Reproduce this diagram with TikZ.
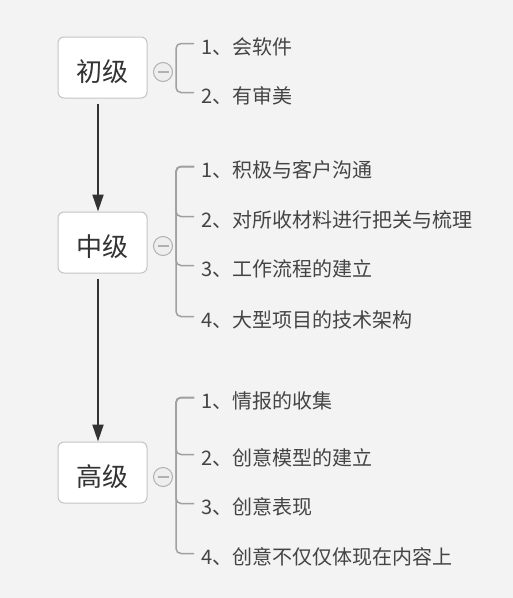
\documentclass[tikz,border=0pt]{standalone}
\usepackage{fontspec}
\setmainfont{Noto Sans CJK SC}
\usetikzlibrary{positioning, arrows.meta}
\usepackage{xcolor}
\definecolor{canvas}{RGB}{243,243,243}
\definecolor{boxbdr}{RGB}{196,196,196}
\definecolor{ink}{RGB}{51,51,51}
\definecolor{subink}{RGB}{68,68,68}
\definecolor{brk}{RGB}{160,160,160}
\definecolor{knob}{RGB}{176,176,176}
\definecolor{knobfill}{RGB}{238,238,238}
\tikzset{
  BX/.style={draw=boxbdr,fill=white,line width=1pt,rectangle,minimum width=89pt,minimum height=61pt,rounded corners=6pt,font=\fontsize{26pt}{29pt}\selectfont\color{ink},inner sep=0pt,text height=30pt,text depth=3pt},
  TX/.style={anchor=west,inner xsep=7pt,inner ysep=0pt,font=\fontsize{20pt}{23pt}\selectfont\color{subink}},
  CL/.style={circle,draw=knob,fill=knobfill,line width=1pt,minimum size=19pt,inner sep=0pt,
    path picture={\draw[knob,line width=1.2pt]([xshift=-5.5pt]path picture bounding box.center)--([xshift=5.5pt]path picture bounding box.center);}},
  BR/.style={draw=brk,line width=1.5pt,rounded corners=5pt},
  FL/.style={-{Triangle[length=17pt,width=11pt]},line width=2pt,ink},
}
\begin{document}
\begin{tikzpicture}[x=1pt,y=-1pt]
\fill[canvas](0,0) rectangle (513,598);

% Level 1
\node[BX](low) at (102.5,67.5){初级};
\node[CL](lk)  at (163,72){};
\node[TX](l1)  at (194,47){1、会软件};
\node[TX](l2)  at (194,96){2、有审美};
\draw[BR]([yshift=3.5pt]l1.west)--++(-18,0)|-([yshift=3.5pt]l2.west);

% Level 2
\node[BX](mid) at (102.5,242.5){中级};
\node[CL](mk)  at (163,246){};
\node[TX](m1)  at (194,170){1、积极与客户沟通};
\node[TX](m2)  at (194,220){2、对所收材料进行把关与梳理};
\node[TX](m3)  at (194,269){3、工作流程的建立};
\node[TX](m4)  at (194,320){4、大型项目的技术架构};
\foreach \k in {2,3,4}
  \draw[BR]([yshift=3.5pt]m1.west)--++(-18,0)|-([yshift=3.5pt]m\k.west);

% Level 3
\node[BX](high) at (102.5,472.5){高级};
\node[CL](hk)   at (163,477){};
\node[TX](h1)   at (194,401){1、情报的收集};
\node[TX](h2)   at (194,458){2、创意模型的建立};
\node[TX](h3)   at (194,507){3、创意表现};
\node[TX](h4)   at (194,557){4、创意不仅仅体现在内容上};
\foreach \k in {2,3,4}
  \draw[BR]([yshift=3.5pt]h1.west)--++(-18,0)|-([yshift=3.5pt]h\k.west);

% FLOWS
\draw[FL]([xshift=-4.5pt,yshift=-5pt]low.south)--([xshift=-4.5pt]mid.north);
\draw[FL]([xshift=-4.5pt,yshift=-5pt]mid.south)--([xshift=-4.5pt]high.north);

\end{tikzpicture}
\end{document}
